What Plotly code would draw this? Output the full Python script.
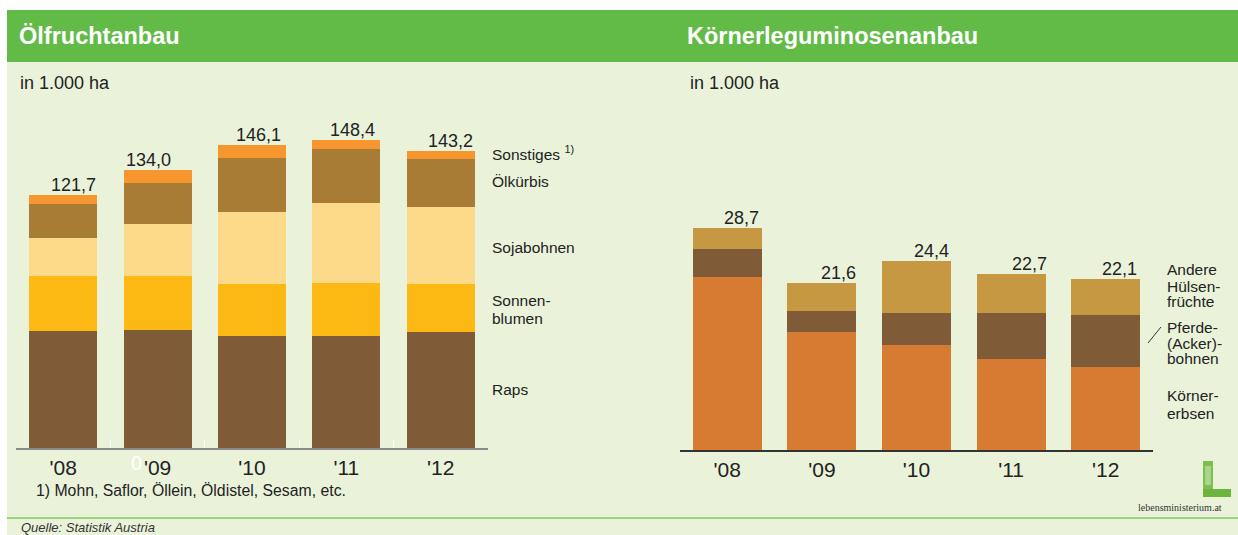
import plotly.graph_objects as go

# ---------------- data ----------------
years = ["'08", "'09", "'10", "'11", "'12"]

# Ölfruchtanbau (1.000 ha)
raps = [56.4, 56.9, 54.0, 54.0, 55.9]
sonnenblumen = [26.5, 26.0, 25.1, 25.5, 23.1]
sojabohnen = [18.3, 25.1, 34.7, 38.6, 37.1]
oelkuerbis = [16.4, 19.8, 26.0, 26.0, 23.1]
sonstiges = [4.1, 6.2, 6.3, 4.3, 4.0]
oel_totals = [121.7, 134.0, 146.1, 148.4, 143.2]

# Körnerleguminosenanbau (1.000 ha)
koernererbsen = [22.4, 15.2, 13.6, 11.8, 10.7]
pferdebohnen = [3.6, 2.7, 4.1, 5.9, 6.8]
andere = [2.7, 3.7, 6.7, 5.0, 4.6]
leg_totals = [28.7, 21.6, 24.4, 22.7, 22.1]

# ---------------- styling ----------------
W, H = 1238, 535
FONT = "Liberation Sans, Arial, sans-serif"
C_RAPS = "#7F5B38"
C_SONNEN = "#FDB913"
C_SOJA = "#FDD98A"
C_KUERBIS = "#A97C35"
C_SONST = "#F7962F"
C_ERBSEN = "#D77B32"
C_PFERDE = "#7F5B38"
C_ANDERE = "#C69841"
C_HEADER = "#62BB47"
C_BG = "#EAF3DA"
C_TEXT = "#222222"


def px(x):
    return x / W


def py(y):
    return 1 - y / H


fig = go.Figure()

left_series = [
    ("Raps", raps, C_RAPS),
    ("Sonnenblumen", sonnenblumen, C_SONNEN),
    ("Sojabohnen", sojabohnen, C_SOJA),
    ("Ölkürbis", oelkuerbis, C_KUERBIS),
    ("Sonstiges", sonstiges, C_SONST),
]
for name, vals, col in left_series:
    fig.add_trace(go.Bar(x=years, y=vals, name=name, marker=dict(color=col, line=dict(width=0)),
                         width=0.72, xaxis="x", yaxis="y", showlegend=False, hoverinfo="x+y+name"))

right_series = [
    ("Körnererbsen", koernererbsen, C_ERBSEN),
    ("Pferde-(Acker)-bohnen", pferdebohnen, C_PFERDE),
    ("Andere Hülsenfrüchte", andere, C_ANDERE),
]
for name, vals, col in right_series:
    fig.add_trace(go.Bar(x=years, y=vals, name=name, marker=dict(color=col, line=dict(width=0)),
                         width=0.73, xaxis="x2", yaxis="y2", showlegend=False, hoverinfo="x+y+name"))

base1, top1 = 448, 130
base2, top2 = 450, 130
shapes = [
    dict(type="rect", xref="paper", yref="paper", x0=px(7), x1=px(1238), y0=py(535), y1=py(62),
         fillcolor=C_BG, line=dict(width=0), layer="below"),
    dict(type="rect", xref="paper", yref="paper", x0=px(7), x1=px(1238), y0=py(62), y1=py(10),
         fillcolor=C_HEADER, line=dict(width=0), layer="below"),
    dict(type="line", xref="paper", yref="paper", x0=px(7), x1=px(1238), y0=py(518), y1=py(518),
         line=dict(color="#9AD47E", width=2), layer="below"),
    # small connector stroke for Pferde-(Acker)-bohnen
    dict(type="line", xref="paper", yref="paper", x0=px(1148), x1=px(1161), y0=py(343), y1=py(327),
         line=dict(color="#333333", width=1)),
    # logo "L"
    dict(type="rect", xref="paper", yref="paper", x0=px(1203), x1=px(1213), y0=py(497), y1=py(461),
         fillcolor="#7DBE4E", line=dict(width=0)),
    dict(type="rect", xref="paper", yref="paper", x0=px(1203), x1=px(1231), y0=py(497), y1=py(489),
         fillcolor="#6DB43F", line=dict(width=0)),
    dict(type="rect", xref="paper", yref="paper", x0=px(1205), x1=px(1211), y0=py(485), y1=py(466),
         fillcolor="#A8D68A", line=dict(width=0)),
]

ann = []


def text(x, y, s, size=15.5, color=C_TEXT, xanchor="left", bold=False, italic=False, family=FONT):
    if bold:
        s = "<b>" + s + "</b>"
    if italic:
        s = "<i>" + s + "</i>"
    ann.append(dict(xref="paper", yref="paper", x=px(x), y=py(y), text=s, showarrow=False,
                    xanchor=xanchor, yanchor="middle", font=dict(size=size, color=color, family=family)))


text(17, 36, "Ölfruchtanbau", size=23.5, color="white", bold=True)
text(685, 36, "Körnerleguminosenanbau", size=23.5, color="white", bold=True)
text(18, 83, "in 1.000 ha", size=18)
text(688, 83, "in 1.000 ha", size=18)

# left series labels
text(490, 153, "Sonstiges <sup>1)</sup>")
text(490, 181, "Ölkürbis")
text(490, 247, "Sojabohnen")
text(490, 300, "Sonnen-")
text(490, 318, "blumen")
text(490, 389, "Raps")

# right series labels
text(1165, 270, "Andere")
text(1165, 286, "Hülsen-")
text(1165, 301, "früchte")
text(1165, 327, "Pferde-")
text(1165, 343, "(Acker)-")
text(1165, 358, "bohnen")
text(1165, 395, "Körner-")
text(1165, 413, "erbsen")

text(34, 490, "1) Mohn, Saflor, Öllein, Öldistel, Sesam, etc.", size=15.8)
text(19, 527, "Quelle: Statistik Austria", size=13, color="#333333", italic=True)
text(1180, 507, "lebensministerium.at", size=10, color="#333333", xanchor="center",
     family="Liberation Serif, DejaVu Serif, serif")
text(136, 463, "0", size=20, color="white", xanchor="center")

oel_shift = [10, -9, 6, 6, 10]
leg_shift = [14, 17, 15, 18, 14]
for i, (yr, t) in enumerate(zip(years, oel_totals)):
    ann.append(dict(xref="x", yref="y", x=yr, y=t, text=f"{t:.1f}".replace(".", ","), showarrow=False,
                    xanchor="center", yanchor="bottom", xshift=oel_shift[i], yshift=-2,
                    font=dict(size=18, color=C_TEXT, family=FONT)))
for i, (yr, t) in enumerate(zip(years, leg_totals)):
    ann.append(dict(xref="x2", yref="y2", x=yr, y=t, text=f"{t:.1f}".replace(".", ","), showarrow=False,
                    xanchor="center", yanchor="bottom", xshift=leg_shift[i], yshift=-2,
                    font=dict(size=18, color=C_TEXT, family=FONT)))

fig.update_layout(
    width=W, height=H,
    margin=dict(l=0, r=0, t=0, b=0),
    paper_bgcolor="white",
    plot_bgcolor="rgba(0,0,0,0)",
    barmode="stack",
    font=dict(family=FONT, color=C_TEXT),
    shapes=shapes,
    annotations=ann,
    xaxis=dict(domain=[px(16), px(488)], anchor="y", type="category",
               showline=True, linecolor="#8A8A8A", linewidth=2,
               ticks="inside", tickson="boundaries", tickcolor="white", ticklen=8, tickwidth=1,
               showgrid=False, zeroline=False, tickfont=dict(size=21, color=C_TEXT)),
    yaxis=dict(domain=[py(base1), py(top1)], anchor="x", range=[0, (base1 - top1) / 2.075],
               visible=False, showgrid=False, zeroline=False),
    xaxis2=dict(domain=[px(680), px(1153)], anchor="y2", type="category",
                showline=True, linecolor="#333333", linewidth=1.5, ticks="",
                showgrid=False, zeroline=False, tickfont=dict(size=21, color=C_TEXT)),
    yaxis2=dict(domain=[py(base2), py(top2)], anchor="x2", range=[0, (base2 - top2) / 7.74],
                visible=False, showgrid=False, zeroline=False),
)

fig.write_html("out.html", config={"displayModeBar": False},
               post_script="document.body.style.margin='0';document.body.style.overflow='hidden';")
